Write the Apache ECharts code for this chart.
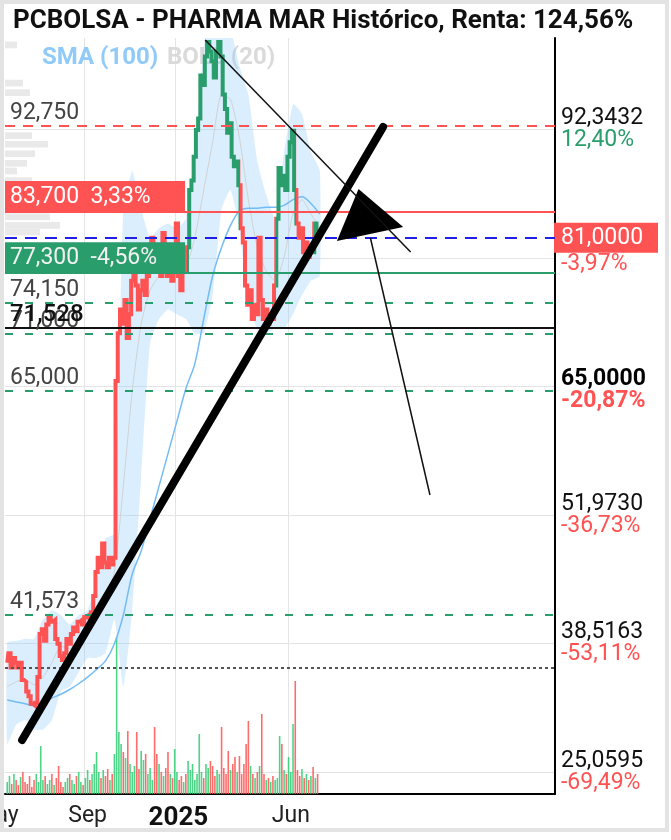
<!DOCTYPE html>
<html><head><meta charset="utf-8">
<script src="https://cdn.jsdelivr.net/npm/echarts@6/dist/echarts.min.js"></script>
<style>html,body{margin:0;padding:0;background:#fff}#c{width:671px;height:840px}</style>
</head><body><div id="c"></div>
<script>
// ---------------- DATA ----------------
const titleText = 'PCBOLSA - PHARMA MAR Histórico, Renta: 124,56%';
const legendSMA = 'SMA (100)';
const legendBOLL = 'BOLL (20)';

const startDate = '2024-05-20';
const stepDays = 3;
const prices = [
 36.5,37.5,36.0,37.0,36.5,36.0,36.5,34.7,34.5,33.5,
 33.0,32.2,32.0,32.3,35.0,39.5,40.0,38.8,40.5,41.2,
 40.8,41.0,39.0,38.5,37.2,36.8,37.5,39.0,38.5,39.5,
 40.2,39.8,40.8,41.0,40.5,41.3,41.5,41.2,41.8,43.5,
 46.0,47.5,46.5,49.0,47.0,46.5,47.5,46.8,47.5,66.0,
 71.0,73.5,72.0,74.5,70.5,73.0,76.5,77.0,76.0,73.5,
 75.5,76.5,75.0,77.0,78.0,81.0,79.0,77.5,78.0,77.0,
 81.5,79.0,77.0,78.0,76.5,78.5,82.5,77.0,75.5,78.0,
 77.5,80.0,86.0,87.0,89.5,92.3,93.5,98.0,97.0,100.0,
 101.5,100.5,99.5,97.8,100.5,101.5,100.0,96.0,94.5,92.0,
 93.0,89.5,88.5,89.0,86.5,82.0,80.5,76.0,74.0,75.5,
 72.5,74.0,73.0,81.0,74.5,72.5,73.5,72.0,73.0,72.5,
 76.0,83.0,88.3,86.5,87.5,86.0,89.5,91.0,92.2,86.0,
 82.5,81.0,82.0,79.5,80.5,79.0,80.0,79.5,82.5,81.0];
const volumes = [
 240,360,200,400,280,180,340,440,240,200,
 360,140,280,400,240,960,280,360,200,280,
 400,180,320,560,240,140,240,320,400,280,
 200,360,440,240,180,320,480,280,400,600,
 840,440,320,480,360,500,280,400,800,3140,
 1240,1000,840,720,1260,600,440,560,1240,500,
 860,680,800,400,520,280,1340,800,600,440,
 360,520,840,400,320,900,440,280,360,240,
 400,660,480,600,280,400,1200,440,320,600,
 520,660,560,360,480,400,1340,520,400,860,
 480,600,740,440,760,400,600,1000,1460,560,
 400,320,440,560,1600,400,280,320,240,360,
 280,320,1160,1000,480,400,740,440,1400,2260,
 480,360,500,320,400,280,360,540,320,400];
const greenPeriods = [['2025-01-17','2025-03-29'],['2025-05-16','2025-06-12'],['2025-07-06','2025-07-13']];

const bandStepDays = 12;
const bollUpper = [38.6,38.8,39.0,39.0,41.0,42.0,41.5,40.5,41.5,42.0,45.0,49.5,50.0,84.0,88.0,84.0,81.0,82.0,82.5,82.0,83.0,90.0,101.0,106.0,106.0,103.0,99.0,96.0,89.0,85.5,83.0,90.0,95.0,94.0,90.0,88.0];
const bollLower = [28.0,30.0,30.5,29.5,29.5,30.5,33.5,34.0,35.5,37.0,37.0,37.5,41.0,34.0,42.0,56.0,70.0,72.5,73.5,73.0,72.5,71.0,71.0,75.0,84.0,86.0,82.0,74.0,71.5,71.0,71.5,71.5,73.0,75.0,76.5,77.0];
const bollMid = [34.0,34.5,34.8,34.2,35.0,36.5,38.2,38.0,39.0,40.2,41.5,43.5,46.0,55.0,65.0,72.0,75.5,77.0,78.0,77.8,78.0,81.0,86.0,91.0,96.0,95.5,91.5,85.0,80.0,77.5,76.5,79.0,83.5,85.0,83.5,82.0];
const sma100 = [32.6,32.4,32.2,32.0,32.3,32.8,33.2,33.7,34.3,35.0,35.8,36.7,38.5,41.5,45.8,48.2,51.6,55.0,58.4,61.8,65.2,67.8,72.5,77.0,80.0,82.3,83.8,84.1,84.1,84.2,84.2,84.4,85.0,85.3,84.6,83.5];

// volume-by-price profile (left edge)
const profilePrices = [101.2, 97.2, 96.2, 91.7, 90.8, 89.8, 88.8, 88.0, 87.0, 83.2, 82.3, 81.6];
const profileVolumes = [12, 18, 25, 27, 43, 30, 22, 12, 27, 45, 55, 35];

const xRange = ['2024-05-17','2026-05-26'];
const xTickDates = ['2024-09-01','2025-01-01','2025-06-01'];
const xTickLabels = ['Sep','2025','Jun'];
const xOffLabel = ['2024-05-01','May'];

const yRange = [22.755, 101.925];
const yGridValues = [25.0595, 38.5163, 51.9730, 65.4297, 78.8865, 92.3432];
const yLabelValues = [25.0595, 38.5163, 51.9730, 92.3432];
const yLabelTexts = ['25,0595','38,5163','51,9730','92,3432'];
const yLabelPcts = ['-69,49%','-53,11%','-36,73%','12,40%'];
const lastPrice = 81, lastPriceText = '81,0000', lastPricePct = '-3,97%';
const keyLevel = 65, keyLevelText = '65,0000', keyLevelPct = '-20,87%';

const levels = [
 {value: 92.75, text: '92,750', kind: 'redDash'},
 {value: 83.7, text: '83,700  3,33%', kind: 'redBox'},
 {value: 81.0, text: '', kind: 'blueDash'},
 {value: 77.3, text: '77,300  -4,56%', kind: 'greenBox'},
 {value: 74.15, text: '74,150', kind: 'greenDash'},
 {value: 71.0, text: '71,000', kind: 'greenDash'},
 {value: 71.528, text: '71,528', kind: 'black'},
 {value: 65.0, text: '65,000', kind: 'greenDash'},
 {value: 41.573, text: '41,573', kind: 'greenDash'},
 {value: 35.95, text: '', kind: 'dotted'}
];

// hand-drawn annotations (date, price)
const trendThick = [['2024-06-09', 28.41], ['2025-10-07', 92.61]];
const trendThin = [['2025-02-10', 101.72], ['2025-11-13', 79.52]];
const arrowLine = [['2025-09-20', 80.98], ['2025-12-09', 54.07]];
const arrowHead = [['2025-09-04', 86.11], ['2025-11-03', 82.13], ['2025-08-06', 80.67]];

// ---------------- CHART ----------------
const DAY = 86400000;
const ts = s => Date.parse(s + 'T00:00:00Z');
const t0 = ts(startDate);
const RED = '#ff5252', GREEN = '#2a9d6c', VGREEN = '#2ecc71', FONT = 'Roboto', FS = 23;

const priceData = prices.map((p, i) => [t0 + i * stepDays * DAY, p]);
const bx = i => t0 + i * bandStepDays * DAY;
const bandData = bollUpper.map((v, i) => [bx(i), v, bollLower[i]]);
const midData = bollMid.map((v, i) => [bx(i), v]);
const smaData = sma100.map((v, i) => [bx(i), v]);
const volData = volumes.map((v, i) => ({
  value: [t0 + i * stepDays * DAY, v],
  itemStyle: {color: (i > 0 && prices[i] < prices[i - 1]) ? RED : VGREEN, opacity: 0.85}
}));
const profileData = profilePrices.map((p, i) => [profileVolumes[i], p]);

const textLabel = t => ({show: !!t, formatter: t, position: 'insideStartTop', distance: [5, 1],
  color: '#444', fontSize: FS, fontFamily: FONT});
const boxLabel = (t, bg, fg) => ({show: true, formatter: t, position: 'insideStartTop', distance: [0, 1],
  color: fg, backgroundColor: bg, padding: [4, 8, 2, 5], width: 167, fontSize: FS, fontFamily: FONT, lineHeight: 24});
const levelStyle = {
  redDash: l => ({line: {color: RED, width: 2, type: [10, 8]}, label: textLabel(l.text)}),
  redBox: l => ({line: {color: RED, width: 2, type: 'solid'}, label: boxLabel(l.text, RED, '#fff')}),
  blueDash: l => ({line: {color: '#1f1fe6', width: 2, type: [12, 8]}, label: {show: false}}),
  greenBox: l => ({line: {color: GREEN, width: 2, type: 'solid'}, label: boxLabel(l.text, GREEN, '#f2f2f2')}),
  greenDash: l => ({line: {color: GREEN, width: 2, type: [8, 12]}, label: textLabel(l.text)}),
  black: l => ({line: {color: '#111', width: 2, type: 'solid'},
    label: Object.assign(textLabel(l.text), {color: '#111', fontSize: 24, fontWeight: 500})}),
  dotted: l => ({line: {color: '#555', width: 2, type: [3, 3]}, label: {show: false}})
};
const levelLines = levels.map(l => {
  const s = levelStyle[l.kind](l);
  return {yAxis: l.value, lineStyle: s.line, label: s.label};
});

const seg = (pts, style) => [{coord: [ts(pts[0][0]), pts[0][1]], lineStyle: style}, {coord: [ts(pts[1][0]), pts[1][1]]}];

const xLabelMap = {};
xTickDates.forEach((d, i) => xLabelMap[ts(d)] = xTickLabels[i]);
const yIdx = v => yLabelValues.findIndex(x => Math.abs(x - v) < 1e-6);

const chart = echarts.init(document.getElementById('c'));
const option = {
  animation: false,
  backgroundColor: '#fff',
  title: {text: titleText, left: 8, top: 3,
    textStyle: {fontFamily: FONT, fontWeight: 'bold', fontSize: 26, color: '#111'}},
  grid: [
    {left: 5, right: 116, top: 38, bottom: 46},
    {left: 5, right: 116, top: 594, bottom: 46},
    {left: 5, right: 116, top: 38, bottom: 46}
  ],
  xAxis: [
    {type: 'value', gridIndex: 0, min: ts(xRange[0]), max: ts(xRange[1]),
     axisLine: {show: true, onZero: false, lineStyle: {color: '#000', width: 2}},
     axisTick: {show: false, customValues: xTickDates.map(ts)},
     splitLine: {show: true, lineStyle: {color: '#e4e4e4', width: 1}},
     axisLabel: {customValues: xTickDates.map(ts), margin: 11, padding: [0, 0, 0, 6],
       formatter: v => xLabelMap[v] === '2025' ? '{b|2025}' : '{n|' + (xLabelMap[v] || '') + '}',
       rich: {n: {fontSize: FS, color: '#222', fontFamily: FONT},
              b: {fontSize: 26, color: '#111', fontFamily: FONT, fontWeight: 'bold'}}}},
    {type: 'value', gridIndex: 1, min: ts(xRange[0]), max: ts(xRange[1]), show: false},
    {type: 'value', gridIndex: 2, min: 0, max: 550, show: false}
  ],
  yAxis: [
    {type: 'value', gridIndex: 0, position: 'right', min: yRange[0], max: yRange[1],
     axisLine: {show: true, onZero: false, lineStyle: {color: '#000', width: 2}},
     axisTick: {show: false, customValues: yGridValues},
     splitLine: {show: true, lineStyle: {color: '#e4e4e4', width: 1}},
     axisLabel: {customValues: yLabelValues, margin: 6,
       formatter: v => {const i = yIdx(v); if (i < 0) return '';
         const p = yLabelPcts[i]; return '{v|' + yLabelTexts[i] + '}\n{' + (p[0] === '-' ? 'r' : 'g') + '|' + p + '}';},
       rich: {v: {fontSize: FS, color: '#111', fontFamily: FONT, lineHeight: 22},
              g: {fontSize: FS, color: GREEN, fontFamily: FONT, lineHeight: 22},
              r: {fontSize: FS, color: RED, fontFamily: FONT, lineHeight: 22}}}},
    {type: 'value', gridIndex: 0, position: 'right', min: yRange[0], max: yRange[1],
     axisLine: {show: false}, axisTick: {show: false, customValues: [keyLevel, lastPrice]}, splitLine: {show: false},
     axisLabel: {customValues: [keyLevel, lastPrice], margin: -1,
       formatter: v => Math.abs(v - lastPrice) < 1e-6
         ? '{sp| }\n{box|' + lastPriceText + '}\n{r|' + lastPricePct + '}'
         : '{vb|' + keyLevelText + '}\n{rb|' + keyLevelPct + '}',
       rich: {sp: {fontSize: 12, lineHeight: 22},
              box: {fontSize: FS, color: '#fff', backgroundColor: RED, fontFamily: FONT, height: 30, lineHeight: 30, width: 90, padding: [0, 7, 0, 7]},
              r: {fontSize: FS, color: RED, fontFamily: FONT, lineHeight: 22, padding: [0, 0, 0, 7]},
              vb: {fontSize: FS, color: '#000', fontFamily: FONT, fontWeight: 'bold', lineHeight: 22, padding: [0, 0, 0, 7]},
              rb: {fontSize: FS, color: RED, fontFamily: FONT, fontWeight: 'bold', lineHeight: 22, padding: [0, 0, 0, 7]}}}},
    {type: 'value', gridIndex: 1, min: 0, max: 4000, show: false},
    {type: 'value', gridIndex: 2, min: yRange[0], max: yRange[1], show: false}
  ],
  visualMap: {show: false, type: 'piecewise', seriesIndex: 5, dimension: 0,
    pieces: greenPeriods.map(p => ({gte: ts(p[0]), lt: ts(p[1]), color: GREEN})),
    outOfRange: {color: RED}},
  series: [
    {name: 'profile', type: 'custom', xAxisIndex: 2, yAxisIndex: 3, silent: true, z: 0, data: profileData,
     renderItem: (params, api) => {
       const a = api.coord([0, api.value(1) + 0.35]);
       const b = api.coord([api.value(0), api.value(1) - 0.35]);
       return {type: 'rect', shape: {x: a[0], y: a[1], width: b[0] - a[0], height: b[1] - a[1]}, style: {fill: '#e9e9e9'}};
     }},
    {name: 'vol', type: 'bar', xAxisIndex: 1, yAxisIndex: 2, barWidth: 1.6, data: volData, silent: true, z: 1},
    {name: 'boll', type: 'custom', xAxisIndex: 0, yAxisIndex: 0, silent: true, z: 2, clip: true, data: bandData,
     renderItem: (params, api) => {
       if (params.dataIndex !== 0) return null;
       const up = bandData.map(d => api.coord([d[0], d[1]]));
       const lo = bandData.map(d => api.coord([d[0], d[2]])).reverse();
       return {type: 'polygon', shape: {points: up.concat(lo), smooth: 0.15}, style: {fill: 'rgba(144,202,249,0.33)'}};
     }},
    {name: 'bollMid', type: 'line', xAxisIndex: 0, yAxisIndex: 0, data: midData, symbol: 'none', smooth: 0.2,
     lineStyle: {color: '#d2d2d2', width: 1}, silent: true, z: 3},
    {name: 'sma', type: 'line', xAxisIndex: 0, yAxisIndex: 0, data: smaData, symbol: 'none', smooth: 0.3,
     lineStyle: {color: '#74bcf6', width: 1.5}, silent: true, z: 4},
    {name: 'price', type: 'line', xAxisIndex: 0, yAxisIndex: 0, data: priceData, symbol: 'none', step: 'middle',
     lineStyle: {width: 4, join: 'miter'}, silent: true, z: 5},
    {name: 'levels', type: 'line', xAxisIndex: 0, yAxisIndex: 0, data: [], symbol: 'none', silent: true, z: 6,
     markLine: {z: 7, symbol: ['none', 'none'], silent: true, animation: false, data: levelLines}},
    {name: 'drawings', type: 'custom', xAxisIndex: 0, yAxisIndex: 0, z: 10, silent: true,
     data: [[ts(arrowHead[0][0]), arrowHead[0][1]]],
     renderItem: (params, api) => ({type: 'polygon',
       shape: {points: arrowHead.map(p => api.coord([ts(p[0]), p[1]]))}, style: {fill: '#000'}}),
     markLine: {z: 11, symbol: ['none', 'none'], silent: true, animation: false, label: {show: false},
       data: [seg(trendThick, {color: '#000', width: 8, type: 'solid', cap: 'round'}),
              seg(trendThin, {color: '#111', width: 1.5, type: 'solid'}),
              seg(arrowLine, {color: '#111', width: 1.5, type: 'solid'})]}}
  ]
};
chart.setOption(option);

const mayX = chart.convertToPixel({xAxisIndex: 0}, ts(xOffLabel[0]));
chart.setOption({graphic: [
  {type: 'text', left: 42, top: 46, style: {text: legendSMA, fill: '#90caf9', font: 'bold 24px Roboto'}},
  {type: 'text', left: 167, top: 46, style: {text: legendBOLL, fill: '#dadada', font: 'bold 24px Roboto'}},
  {type: 'text', x: mayX + 4, y: 816, style: {text: xOffLabel[1], fill: '#222', font: FS + 'px Roboto', align: 'center', verticalAlign: 'middle'}},
  {type: 'rect', shape: {x: 2, y: 2, width: 665, height: 828}, style: {fill: 'none', stroke: '#e3e3e3', lineWidth: 4}, z: 100}
]});
</script></body></html>
